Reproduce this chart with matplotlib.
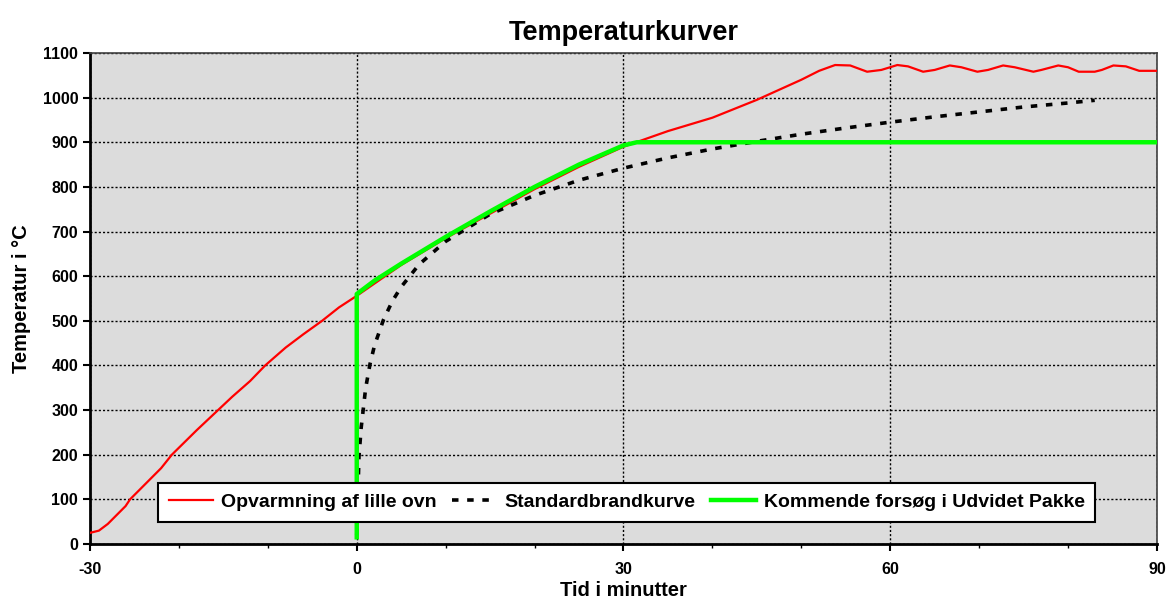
import numpy as np
import matplotlib.pyplot as plt
from matplotlib.ticker import MultipleLocator

plt.rcParams['font.family'] = ['Liberation Sans', 'DejaVu Sans']
plt.rcParams['font.weight'] = 'bold'
plt.rcParams['axes.unicode_minus'] = False

#%% data
# red: opvarmning af lille ovn
t_ovn = [-30, -29, -28, -26, -25.5, -24, -22, -20.8, -18, -15.6, -14, -12, -10.3, -8, -6, -3.9, -2, 0,
         5, 10, 15, 20, 25, 30, 35, 40, 45, 50, 52, 53.8, 55.5, 57.4, 59, 60.8, 62, 63.7, 65, 66.7,
         68, 69.8, 71, 72.7, 74, 76.1, 77, 78.9, 80, 81.2, 83, 83.8, 85.1, 86.5, 88, 90]
T_ovn = [25, 30, 45, 85, 100, 130, 170, 200, 255, 300, 330, 365, 400, 440, 470, 500, 530, 556,
         625, 685, 740, 795, 845, 890, 925, 955, 995, 1040, 1060, 1073, 1072, 1058, 1062, 1073, 1070, 1058, 1062, 1072,
         1068, 1058, 1062, 1072, 1068, 1058, 1062, 1072, 1068, 1058, 1058, 1062, 1072, 1070, 1060, 1060]

# black dashed: standardbrandkurve
t_std = [0, 0.25, 0.5, 1, 1.5, 2, 3, 4, 5, 7, 10, 15, 20, 25, 30, 35, 40, 45, 50, 55, 60, 65, 70, 75, 80, 83]
T_std = [20, 196, 261, 349, 404, 445, 502, 544, 576, 626, 678, 739, 781, 815, 842, 865, 885, 902, 918, 932,
         945, 957, 968, 979, 988, 994]

# green: kommende forsoeg
t_udv = [0, 0, 2, 5, 10, 15, 20, 25, 30, 31.5, 90]
T_udv = [15, 560, 590, 628, 688, 745, 800, 850, 893, 900, 900]

#%% plot
fig = plt.figure(figsize=(11.69, 6.04), dpi=100)
ax = fig.add_axes([0.077, 0.0993, 0.9127, 0.813])
ax.set_facecolor('#dcdcdc')

ax.plot(t_ovn, T_ovn, color='red', linewidth=1.6, label='Opvarmning af lille ovn', zorder=3)
ax.plot(t_std, T_std, color='black', linewidth=2.6, linestyle=(0, (1.8, 2.4)),
        label='Standardbrandkurve', zorder=4)
ax.plot(t_udv, T_udv, color='#00ff00', linewidth=3.2, label='Kommende forsøg i Udvidet Pakke', zorder=5)

ax.set_xlim(-30, 90)
ax.set_ylim(0, 1100)
ax.xaxis.set_major_locator(MultipleLocator(30))
ax.xaxis.set_minor_locator(MultipleLocator(10))
ax.yaxis.set_major_locator(MultipleLocator(100))
ax.grid(True, which='major', color='black', linestyle=(0, (1.5, 1.5)), linewidth=1.0)
ax.set_axisbelow(True)

for s in ['left', 'bottom']:
    ax.spines[s].set_linewidth(2)
for s in ['top', 'right']:
    ax.spines[s].set_linewidth(1.2)
    ax.spines[s].set_color('#404040')
ax.tick_params(which='major', length=5, width=1.5, labelsize=11.5)
ax.tick_params(which='minor', length=3, width=1)
ax.tick_params(axis='x', pad=8)

ax.set_title('Temperaturkurver', fontsize=19.5, fontweight='bold', pad=9)
ax.set_xlabel('Tid i minutter', fontsize=14.5, fontweight='bold', labelpad=3)
ax.set_ylabel('Temperatur i °C', fontsize=14.5, fontweight='bold', labelpad=8)

leg = ax.legend(loc='lower center', bbox_to_anchor=(0.503, 0.045), ncol=3, fontsize=14,
                frameon=True, fancybox=False, edgecolor='black', framealpha=1, borderaxespad=0,
                handlelength=2.3, columnspacing=0.8, handletextpad=0.4, borderpad=0.55)
leg.get_frame().set_linewidth(1.5)

fig.savefig('out.png', dpi=100)
